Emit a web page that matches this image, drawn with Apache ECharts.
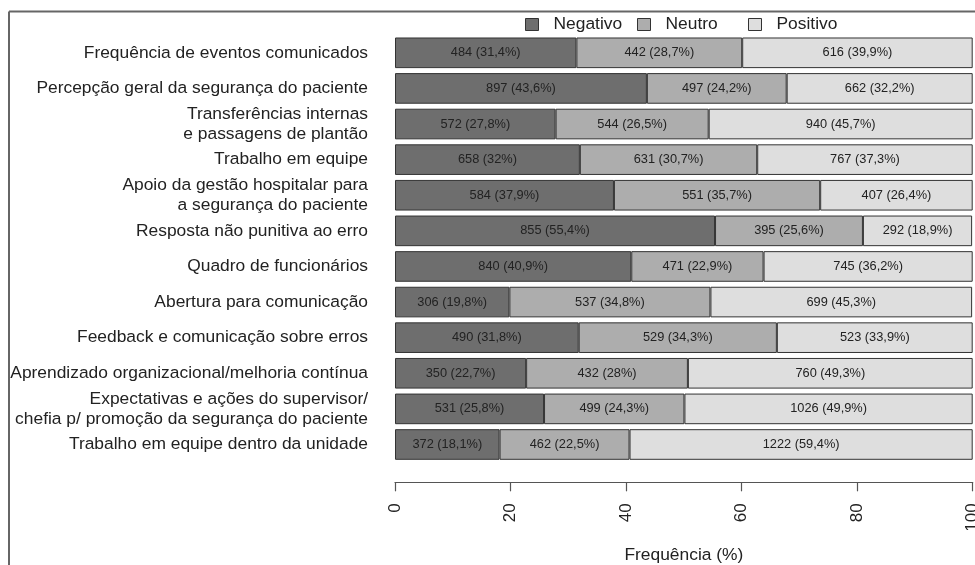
<!DOCTYPE html>
<html>
<head>
<meta charset="utf-8">
<script src="https://cdn.jsdelivr.net/npm/echarts@6/dist/echarts.min.js"></script>
<style>
html,body{margin:0;padding:0;background:#fff;}
#c{width:975px;height:565px;}
</style>
</head>
<body>
<div id="c"></div>
<script>
const categories = [
  "Frequência de eventos comunicados",
  "Percepção geral da segurança do paciente",
  "Transferências internas\ne passagens de plantão",
  "Trabalho em equipe",
  "Apoio da gestão hospitalar para\na segurança do paciente",
  "Resposta não punitiva ao erro",
  "Quadro de funcionários",
  "Abertura para comunicação",
  "Feedback e comunicação sobre erros",
  "Aprendizado organizacional/melhoria contínua",
  "Expectativas e ações do supervisor/\nchefia p/ promoção da segurança do paciente",
  "Trabalho em equipe dentro da unidade"
];
const seriesNames = ["Negativo", "Neutro", "Positivo"];
const negativoCount = [484, 897, 572, 658, 584, 855, 840, 306, 490, 350, 531, 372];
const negativoPct   = [31.4, 43.6, 27.8, 32, 37.9, 55.4, 40.9, 19.8, 31.8, 22.7, 25.8, 18.1];
const neutroCount   = [442, 497, 544, 631, 551, 395, 471, 537, 529, 432, 499, 462];
const neutroPct     = [28.7, 24.2, 26.5, 30.7, 35.7, 25.6, 22.9, 34.8, 34.3, 28, 24.3, 22.5];
const positivoCount = [616, 662, 940, 767, 407, 292, 745, 699, 523, 760, 1026, 1222];
const positivoPct   = [39.9, 32.2, 45.7, 37.3, 26.4, 18.9, 36.2, 45.3, 33.9, 49.3, 49.9, 59.4];
const xTicks = [0, 20, 40, 60, 80, 100];

const colors = ["#6e6e6e", "#adadad", "#dedede"];
const counts = [negativoCount, neutroCount, positivoCount];
const pcts = [negativoPct, neutroPct, positivoPct];
const FONT = "Liberation Sans, Arial, Helvetica, sans-serif";

function fmt(c, p) {
  return c + " (" + String(p).replace(".", ",") + "%)";
}

const chart = echarts.init(document.getElementById("c"), null, {renderer: "canvas"});

const series = seriesNames.map((name, si) => ({
  name: name,
  type: "bar",
  stack: "total",
  barCategoryGap: "14%",
  data: pcts[si],
  itemStyle: {color: colors[si], borderColor: "#333", borderWidth: 1},
  label: {
    show: true,
    position: "inside",
    color: "#222",
    fontFamily: FONT,
    fontSize: 12.8,
    formatter: (p) => fmt(counts[si][p.dataIndex], pcts[si][p.dataIndex])
  },
  emphasis: {disabled: true}
}));

const legendLefts = [525, 637, 748];
const legends = seriesNames.map((n, i) => ({
  data: [n],
  left: legendLefts[i],
  top: 16,
  padding: 0,
  itemWidth: 13,
  itemHeight: 12,
  icon: "rect",
  itemStyle: {borderColor: "#333", borderWidth: 1},
  textStyle: {fontFamily: FONT, fontSize: 17.4, color: "#222", padding: [0, 0, 0, 10]},
  selectedMode: false
}));

chart.setOption({
  animation: false,
  backgroundColor: "#fff",
  legend: legends,
  grid: {left: 395, right: 2.3, top: 35, bottom: 102.7, containLabel: false, outerBoundsMode: "none"},
  xAxis: {
    type: "value",
    min: xTicks[0],
    max: xTicks[xTicks.length - 1],
    interval: 20,
    position: "bottom",
    offset: 20,
    axisLine: {show: true, lineStyle: {color: "#555", width: 1.2}},
    axisTick: {show: true, length: 9, lineStyle: {color: "#555", width: 1.2}},
    axisLabel: {rotate: 90, margin: 21, fontSize: 17, fontFamily: FONT, color: "#222", showMaxLabel: true, hideOverlap: false},
    splitLine: {show: false},
    name: "Frequência (%)",
    nameLocation: "middle",
    nameGap: 64,
    nameTextStyle: {fontFamily: FONT, fontSize: 17.4, color: "#222"}
  },
  yAxis: {
    type: "category",
    inverse: true,
    data: categories,
    axisLine: {show: false},
    axisTick: {show: false},
    axisLabel: {margin: 27, fontSize: 17.4, lineHeight: 20, fontFamily: FONT, color: "#222", align: "right"}
  },
  graphic: [
    {type: "line", shape: {x1: 9, y1: 11.5, x2: 975, y2: 11.5}, style: {stroke: "#666", lineWidth: 2}, silent: true},
    {type: "line", shape: {x1: 9, y1: 11.5, x2: 9, y2: 565}, style: {stroke: "#666", lineWidth: 2}, silent: true}
  ],
  series: series
});
</script>
</body>
</html>
